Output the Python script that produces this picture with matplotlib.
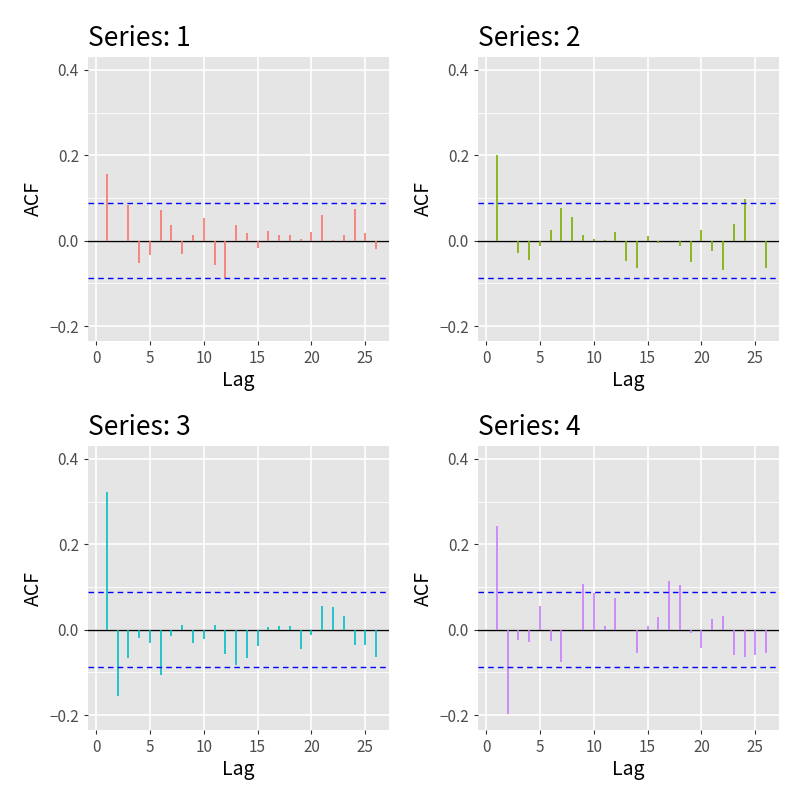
import numpy as np
import matplotlib.pyplot as plt
from matplotlib.ticker import MultipleLocator

plt.rcParams['font.family'] = ['Noto Sans CJK JP', 'DejaVu Sans']

lags = np.arange(1, 27)
acf1 = [0.156, 0.0, 0.084, -0.053, -0.034, 0.071, 0.036, -0.032, 0.013, 0.052, -0.057, -0.088, 0.036,
        0.019, -0.017, 0.022, 0.013, 0.014, 0.005, 0.020, 0.060, 0.002, 0.014, 0.074, 0.018, -0.019]
acf2 = [0.200, 0.0, -0.028, -0.045, -0.013, 0.026, 0.077, 0.055, 0.014, 0.003, 0.002, 0.020, -0.048,
        -0.063, 0.011, -0.006, 0.0, -0.012, -0.049, 0.024, -0.024, -0.069, 0.040, 0.097, 0.0, -0.065]
acf3 = [0.323, -0.156, -0.067, -0.020, -0.031, -0.106, -0.016, 0.012, -0.032, -0.023, 0.012, -0.056, -0.082,
        -0.067, -0.038, 0.006, 0.009, 0.009, -0.046, -0.013, 0.056, 0.054, 0.031, -0.035, -0.037, -0.064]
acf4 = [0.242, -0.198, -0.024, -0.028, 0.055, -0.027, -0.075, 0.0, 0.107, 0.086, 0.009, 0.073, 0.0,
        -0.054, 0.009, 0.030, 0.114, 0.104, -0.008, -0.043, 0.025, 0.031, -0.060, -0.064, -0.060, -0.055]
series = [acf1, acf2, acf3, acf4]
colors = ['#F8766D', '#7CAE00', '#00BFC4', '#C77CFF']
n_obs = 500
ci = 1.96 / np.sqrt(n_obs)

fig = plt.figure(figsize=(8, 8), dpi=100)
boxes = [(88, 57), (478, 57), (88, 446), (478, 446)]
for i, (acf, col, (lx, ty)) in enumerate(zip(series, colors, boxes)):
    ax = fig.add_axes([lx / 800, 1 - (ty + 284) / 800, 301 / 800, 284 / 800])
    ax.set_facecolor('#E5E5E5')
    for s in ax.spines.values():
        s.set_visible(False)
    ax.set_xlim(-0.75, 27.2)
    ax.set_ylim(-0.235, 0.43)
    ax.xaxis.set_major_locator(MultipleLocator(5))
    ax.yaxis.set_major_locator(MultipleLocator(0.2))
    ax.yaxis.set_minor_locator(MultipleLocator(0.1))
    ax.grid(which='major', color='white', lw=1.2)
    ax.grid(which='minor', axis='y', color='white', lw=0.6)
    ax.set_axisbelow(True)
    ax.tick_params(which='minor', length=0)
    ax.tick_params(which='major', length=3, color='#333333', labelsize=11, labelcolor='#4D4D4D')
    ax.axhline(0, color='black', lw=1)
    ax.vlines(lags, 0, acf, color=col, lw=1.2)
    ax.axhline(ci, color='blue', ls=(0, (4, 3)), lw=1)
    ax.axhline(-ci, color='blue', ls=(0, (4, 3)), lw=1)
    ax.set_xlabel('Lag', fontsize=14, labelpad=2)
    ax.set_ylabel('ACF', fontsize=14)
    ax.set_title(f'Series: {i + 1}', loc='left', fontsize=19, pad=8)

fig.savefig('out.png', dpi=100)
